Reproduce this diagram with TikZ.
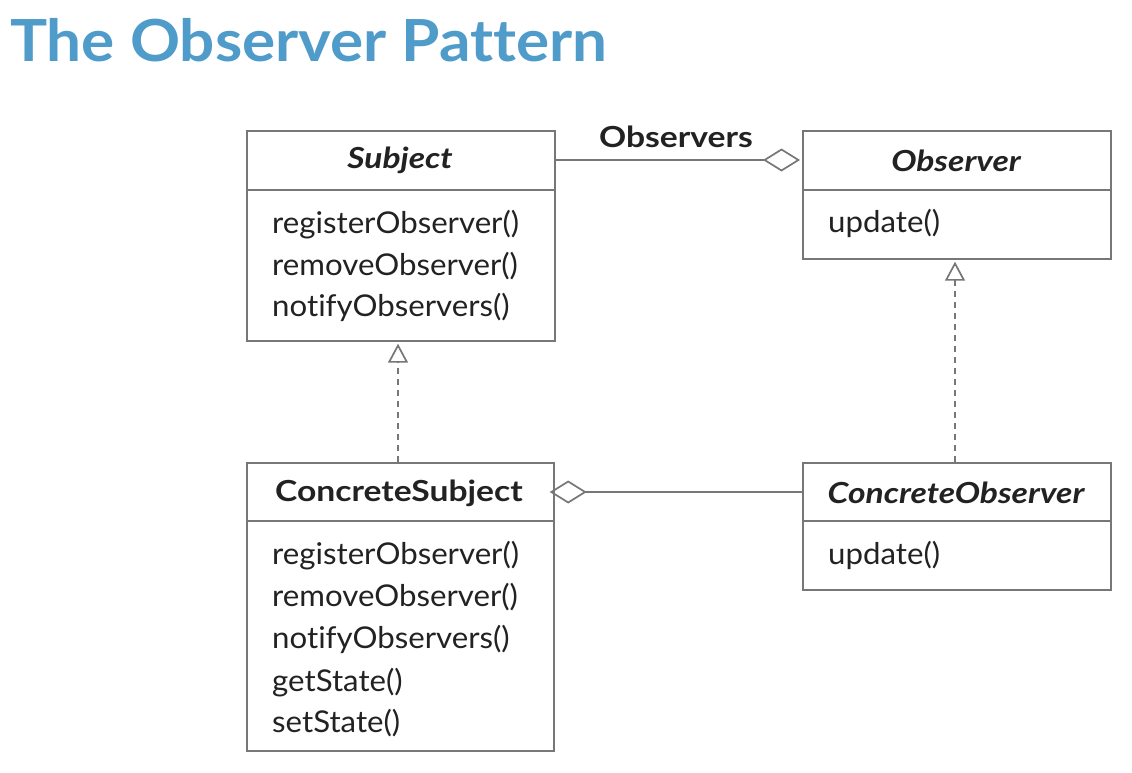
\documentclass[tikz,border=0pt]{standalone}
\usepackage{fontspec}
\setmainfont{Lato}
\newfontfamily\methfont[FakeStretch=1.04, Ligatures=NoCommon]{Lato}
\newfontfamily\clsfont[FakeStretch=1.16, Ligatures=NoCommon]{Lato}
\newfontfamily\ttlfont[FakeStretch=1.07, Ligatures=NoCommon]{Lato}
\usetikzlibrary{arrows.meta}
\definecolor{titleblue}{HTML}{4F9BC9}
\definecolor{linegray}{HTML}{777777}
\definecolor{txt}{HTML}{222222}
\tikzset{
  box/.style={draw=linegray, line width=1.7pt, anchor=north west, inner sep=0pt, minimum width=308pt},
  divline/.style={draw=linegray, line width=1.7pt},
  meth/.style={anchor=base west, inner sep=0pt, text=txt, font=\methfont\fontsize{30}{33}\selectfont},
  cname/.style={anchor=base, inner sep=0pt, text=txt, font=\clsfont\fontsize{29}{32}\selectfont\bfseries},
  cnamei/.style={cname, font=\clsfont\fontsize{29}{32}\selectfont\bfseries\itshape},
  assoc/.style={draw=linegray, line width=1.7pt, -{Diamond[open, length=37pt, width=23pt, line width=1.7pt]}},
  realize/.style={draw=linegray, line width=1.7pt, dashed, dash pattern=on 6pt off 5pt, -{Triangle[open, length=19pt, width=20pt, line width=1.7pt]}}
}
\begin{document}
\begin{tikzpicture}[x=1pt, y=-1pt]
\useasboundingbox[fill=white] (0,0) rectangle (1132,772);
\node[anchor=base west, inner sep=0pt, text=titleblue, font=\ttlfont\fontsize{58}{62}\selectfont\bfseries] (title) at (10,61) {The Observer Pattern};

% Subject
\node[box, minimum height=210pt] (subj) at (246,130) {};
\draw[divline] (246,190) -- (554,190);
\node[cnamei] (subjt) at (400,168) {Subject};
\node[meth] (s1) at (272,233) {registerObserver()};
\node[meth] (s2) at (272,275) {removeObserver()};
\node[meth] (s3) at (272,316) {notifyObservers()};

% Observer
\node[box, minimum height=128pt] (obs) at (802,130) {};
\draw[divline] (802,190) -- (1110,190);
\node[cnamei] (obst) at (956,171) {Observer};
\node[meth] (o1) at (828,232) {update()};

% ConcreteSubject
\node[box, minimum width=307pt, minimum height=288pt] (csubj) at (246,462) {};
\draw[divline] (246,521) -- (553,521);
\node[cname] (csubjt) at (399,501) {ConcreteSubject};
\node[meth] (c1) at (272,564) {registerObserver()};
\node[meth] (c2) at (272,606) {removeObserver()};
\node[meth] (c3) at (272,648) {notifyObservers()};
\node[meth] (c4) at (272,691) {getState()};
\node[meth] (c5) at (272,732) {setState()};

% ConcreteObserver
\node[box, minimum height=127pt] (cobs) at (802,462) {};
\draw[divline] (802,521) -- (1110,521);
\node[cnamei] (cobst) at (956,503) {ConcreteObserver};
\node[meth] (co1) at (828,564) {update()};

% connectors
\draw[assoc] (subj.east |- 0,160) -- ([xshift=-2pt]obs.west |- 0,160);
\node[cname] (lbl) at (676,147) {Observers};
\draw[assoc] (cobs.west |- 0,492) -- ([xshift=-5pt]csubj.east |- 0,492);
\draw[realize] (csubj.north -| 398,0) -- ([yshift=-2pt]subj.south -| 398,0);
\draw[realize] (cobs.north -| 955,0) -- ([yshift=-2pt]obs.south -| 955,0);
\end{tikzpicture}
\end{document}
